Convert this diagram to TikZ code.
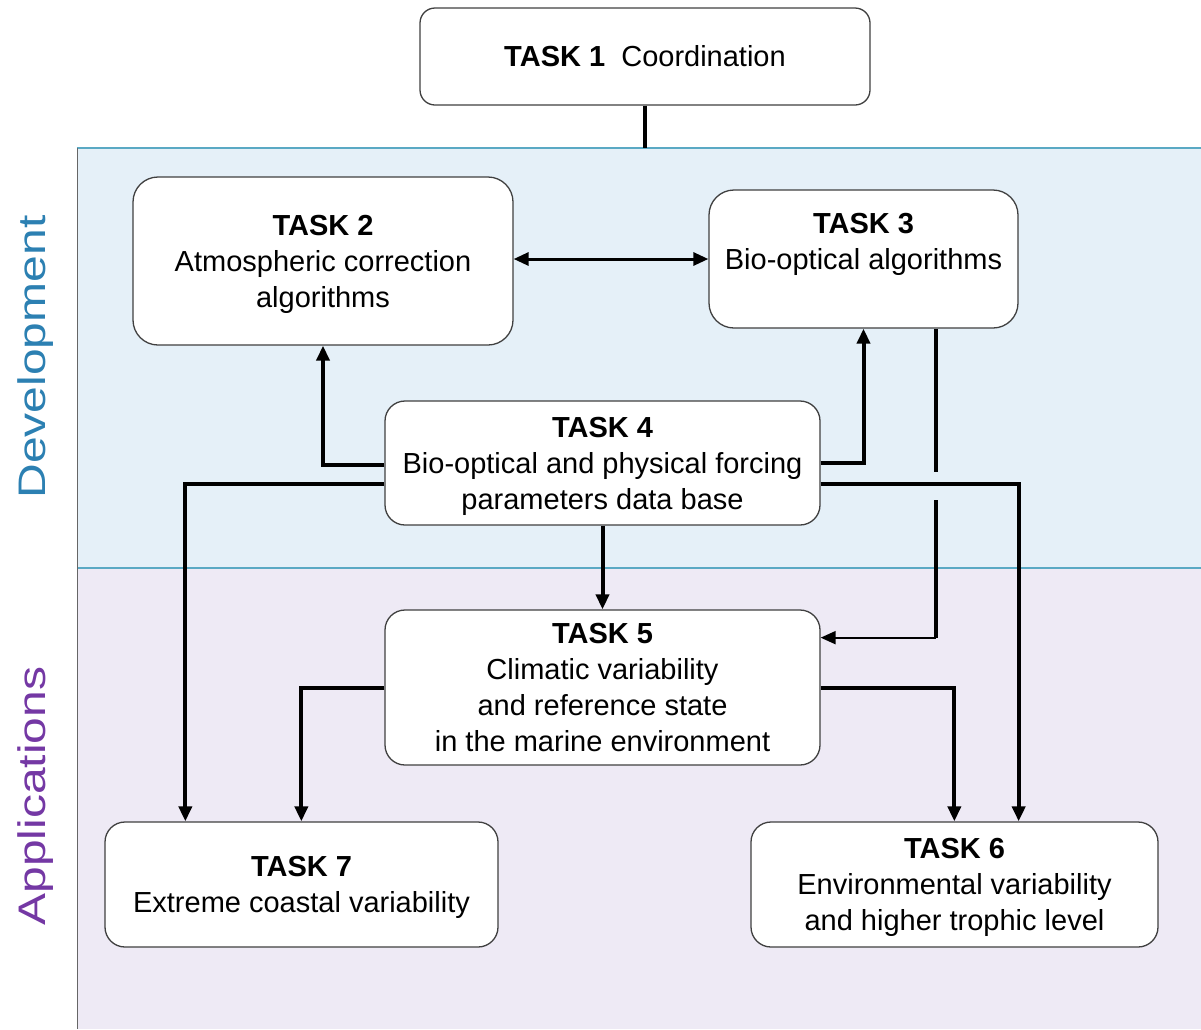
\documentclass[tikz,border=0pt]{standalone}
\usepackage{fontspec}
\setmainfont{Liberation Sans}
\usetikzlibrary{arrows.meta,calc}
\definecolor{bandblue}{HTML}{E5F0F8}
\definecolor{bandpurple}{HTML}{EEEAF5}
\definecolor{bandline}{HTML}{5AA9C4}
\definecolor{devblue}{HTML}{2C80B2}
\definecolor{apppurple}{HTML}{7438A4}
\definecolor{boxline}{HTML}{404040}
\tikzset{
  taskbox/.style={draw=boxline, line width=1.3pt, fill=white, rounded corners=20pt,
    align=center, inner sep=0pt, font=\fontsize{29}{36}\selectfont},
  conn/.style={line width=4pt, black},
  arrowconn/.style={conn, -{Triangle[length=15pt,width=13pt]}},
  thinarrow/.style={line width=2pt, black, -{Triangle[length=15pt,width=13pt]}},
  sidelabel/.style={rotate=90, font=\fontsize{48}{48}\selectfont}
}
\begin{document}
\begin{tikzpicture}[x=1pt,y=-1pt]
\useasboundingbox (0,0) rectangle (1201,1029);
% bands
\fill[bandblue] (77,148) rectangle (1201,568);
\fill[bandpurple] (77,568) rectangle (1201,1029);
\draw[bandline, line width=1.2pt] (77,148) -- (1201,148);
\draw[bandline, line width=1.2pt] (77,568) -- (1201,568);
\draw[boxline!80, line width=1pt] (77,148) -- (77,1029);
% side labels
\node[sidelabel, text=devblue] (dev) at (36,357) {\scalebox{1}[0.8]{Development}};
\node[sidelabel, text=apppurple] (app) at (36,796) {\scalebox{1}[0.8]{Applications}};
% boxes
\node[taskbox, minimum width=450pt, minimum height=97pt, rounded corners=15pt] (t1) at (645,56.5)
  {\textbf{TASK 1}\ \ Coordination};
\node[taskbox, minimum width=380pt, minimum height=168pt, rounded corners=25pt] (t2) at (323,261)
  {\textbf{TASK 2}\\Atmospheric correction\\\smash{algorithms}};
\node[taskbox, minimum width=309pt, minimum height=138pt, rounded corners=25pt] (t3) at (863.5,259)
  {\textbf{TASK 3}\\Bio-optical algorithms\\\mbox{}};
\node[taskbox, minimum width=435pt, minimum height=124pt] (t4) at (602.5,463)
  {\textbf{TASK 4}\\Bio-optical and physical forcing\\\smash{parameters data base}};
\node[taskbox, minimum width=435pt, minimum height=155pt] (t5) at (602.5,687.5)
  {\textbf{TASK 5}\\Climatic variability\\and reference state\\in the marine environment};
\node[taskbox, minimum width=393pt, minimum height=125pt] (t7) at (301.5,884.5)
  {\textbf{TASK 7}\\\smash{Extreme coastal variability}};
\node[taskbox, minimum width=407pt, minimum height=125pt] (t6) at (954.5,884.5)
  {\textbf{TASK 6}\\Environmental variability\\\smash{and higher trophic level}};
% connectors
\coordinate (bandtop) at (645,148);
\draw[conn] (t1.south) -- (bandtop);
\draw[line width=3pt, {Triangle[length=15pt,width=13pt]}-{Triangle[length=15pt,width=13pt]}]
  (t3.west -| t2.east) -- (t3.west);
\draw[arrowconn] ($(t4.west)+(0,2)$) -| (t2.south);
\draw[arrowconn] (t4.east) -| (t3.south);
\draw[arrowconn] (t4.south) -- (t5.north);
% task 3 to task 5 (passes under the task 4 -> task 6 line)
\coordinate (c35) at ($(t3.south east)+(-83,309)$);
\draw[conn] ($(t3.south east)+(-83,0)$) -- (c35);
\draw[thinarrow] (c35) -- (t5.east |- c35);
\draw[bandblue, line width=8pt] ($(t3.south east)+(-83,143)$) -- ($(t3.south east)+(-83,171)$);
\draw[arrowconn] ($(t4.west)+(0,21)$) -| ($(t7.north west)+(81,0)$);
\draw[arrowconn] ($(t4.east)+(0,21)$) -| ($(t6.north east)+(-140,0)$);
\draw[arrowconn] ($(t5.west)+(0,0.5)$) -| ($(t7.north west)+(197,0)$);
\draw[arrowconn] ($(t5.east)+(0,0.5)$) -| ($(t6.north west)+(204,0)$);
\end{tikzpicture}
\end{document}
